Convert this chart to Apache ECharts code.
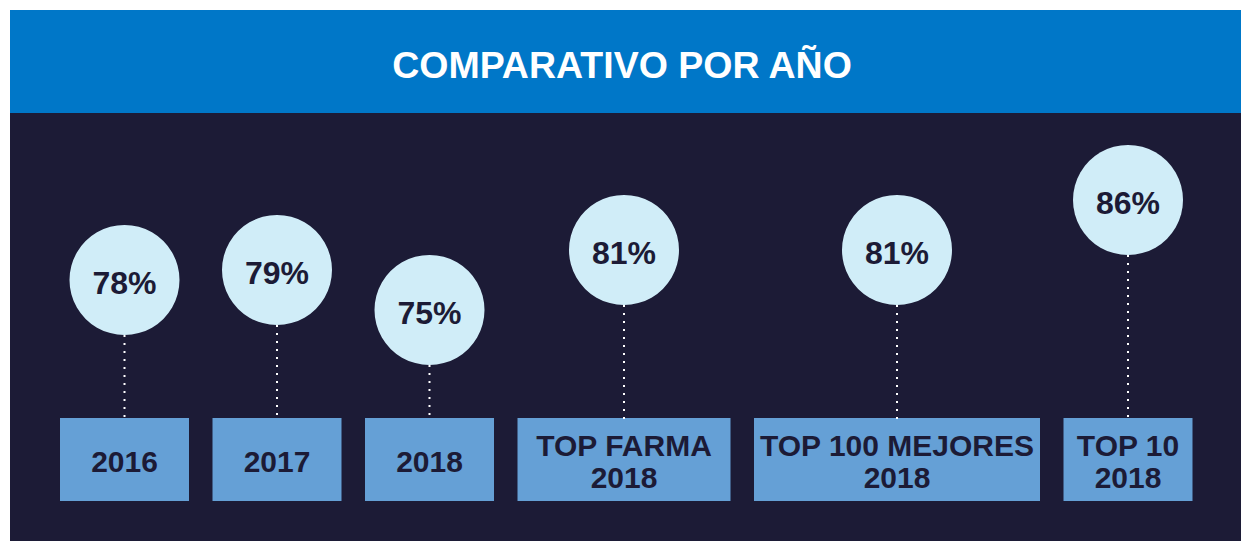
<!DOCTYPE html>
<html>
<head>
<meta charset="utf-8">
<title>Comparativo por año</title>
<script src="https://cdn.jsdelivr.net/npm/echarts@6/dist/echarts.min.js"></script>
<style>
  html, body { margin: 0; padding: 0; background: #fff; }
  #chart { width: 1241px; height: 541px; }
</style>
</head>
<body>
<div id="chart"></div>
<script>
  // datos del comparativo
  const titulo = 'COMPARATIVO POR AÑO';
  const categorias = ['2016', '2017', '2018', 'TOP FARMA\n2018', 'TOP 100 MEJORES\n2018', 'TOP 10\n2018'];
  const porcentajes = [78, 79, 75, 81, 81, 86];

  // maquetación de las cajas (px)
  const anchoCajas = [129, 129, 129, 213, 286, 129];
  const cajaInicio = 60, cajaHueco = 23.5, cajaArriba = 418, cajaAlto = 83;
  const radio = 55;

  const centros = [];
  let acc = cajaInicio;
  anchoCajas.forEach(w => { centros.push(acc + w / 2); acc += w + cajaHueco; });

  const fuente = '"Liberation Sans", Arial, Helvetica, sans-serif';
  const oscuro = '#1c1b36';
  const puntos = centros.map((c, i) => [c, porcentajes[i], i]);

  const chart = echarts.init(document.getElementById('chart'), null, {renderer: 'svg'});
  chart.setOption({
    backgroundColor: '#ffffff',
    animation: false,
    graphic: [
      {type: 'rect', shape: {x: 10, y: 10, width: 1231, height: 103}, style: {fill: '#0077c8'}},
      {type: 'rect', shape: {x: 10, y: 113, width: 1231, height: 428}, style: {fill: '#1c1b36'}},
      {
        type: 'text', x: 622, y: 65,
        style: {
          text: titulo, fill: '#ffffff', fontSize: 37.5, fontWeight: 'bold', fontFamily: fuente,
          align: 'center', verticalAlign: 'middle'
        }
      }
    ],
    grid: {left: 0, right: 0, top: 60, height: 400},
    xAxis: {type: 'value', min: 0, max: 1241, show: false},
    yAxis: {type: 'value', min: 60, max: 100, show: false},
    series: [
      {
        // cajas con las categorías
        type: 'custom',
        name: 'cajas',
        data: puntos,
        renderItem: (params, api) => {
          const i = api.value(2);
          const w = anchoCajas[i];
          const cx = api.coord([api.value(0), api.value(1)])[0];
          return {
            type: 'rect',
            shape: {x: cx - w / 2, y: cajaArriba, width: w, height: cajaAlto},
            style: {fill: '#65a0d6'},
            textContent: {
              style: {
                text: categorias[i], fill: oscuro, fontSize: 30, fontWeight: 'bold',
                fontFamily: fuente, align: 'center', verticalAlign: 'middle', lineHeight: 32
              }
            },
            textConfig: {position: 'inside', offset: [0, 2]}
          };
        }
      },
      {
        // línea punteada
        type: 'custom',
        name: 'lineas',
        data: puntos,
        renderItem: (params, api) => {
          const p = api.coord([api.value(0), api.value(1)]);
          return {
            type: 'line',
            shape: {x1: p[0], y1: p[1] + radio, x2: p[0], y2: cajaArriba + 2},
            style: {stroke: '#ffffff', lineWidth: 2, lineDash: [2, 6]}
          };
        }
      },
      {
        type: 'scatter',
        name: 'porcentaje',
        data: puntos,
        symbolSize: radio * 2,
        itemStyle: {color: '#d0edf8', opacity: 1},
        label: {
          show: true, position: 'inside', offset: [0, 3],
          formatter: p => p.value[1] + '%',
          color: oscuro, fontSize: 32, fontWeight: 'bold', fontFamily: fuente
        },
        z: 5
      }
    ]
  });
</script>
</body>
</html>
